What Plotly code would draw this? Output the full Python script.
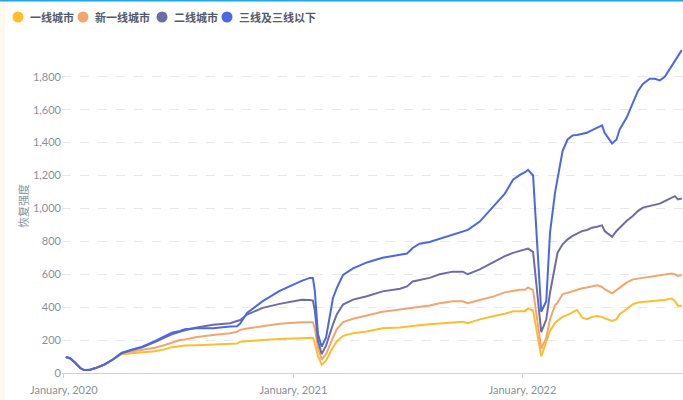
import plotly.graph_objects as go

dates = [
    "2020-01-04", "2020-01-11", "2020-01-19", "2020-01-27", "2020-02-02", "2020-02-11", "2020-02-21",
    "2020-03-06", "2020-03-19", "2020-04-02", "2020-04-18", "2020-05-04", "2020-05-25", "2020-06-10",
    "2020-06-21", "2020-07-04", "2020-07-12", "2020-07-31", "2020-08-26", "2020-09-22", "2020-10-03",
    "2020-10-08", "2020-10-19", "2020-11-13", "2020-12-10",
    "2021-01-14", "2021-01-27", "2021-02-01", "2021-02-04", "2021-02-09", "2021-02-15", "2021-02-22",
    "2021-03-05", "2021-03-11", "2021-03-21", "2021-04-06", "2021-04-28", "2021-05-23", "2021-06-20",
    "2021-07-01", "2021-07-10", "2021-07-21", "2021-08-06", "2021-08-22", "2021-09-12", "2021-09-28",
    "2021-10-06", "2021-10-25", "2021-11-15", "2021-12-04", "2021-12-17", "2021-12-28",
    "2022-01-05", "2022-01-10", "2022-01-18", "2022-01-31", "2022-02-08", "2022-02-14", "2022-02-22",
    "2022-02-26", "2022-03-06", "2022-03-14", "2022-03-22", "2022-03-29", "2022-04-03", "2022-04-06",
    "2022-04-14", "2022-04-22", "2022-04-30", "2022-05-08", "2022-05-12", "2022-05-24", "2022-05-31",
    "2022-06-05", "2022-06-16", "2022-06-26", "2022-07-04", "2022-07-12", "2022-07-23", "2022-07-31",
    "2022-08-08", "2022-08-16", "2022-08-27", "2022-09-01", "2022-09-06", "2022-09-12",
]

tier3_below = [
    98, 90, 62, 30, 18, 18, 30, 52, 82, 122, 142, 159, 194, 225, 245, 255, 266, 272, 272, 282, 284,
    300, 365, 437, 499,
    560, 578, 578, 500, 236, 160, 216, 456, 516, 596, 636, 672, 700, 716, 726, 760, 786, 796, 816,
    844, 864, 870, 920, 1010, 1090, 1174, 1204,
    1220, 1234, 1200, 372, 436, 853, 1096, 1177, 1349, 1419, 1444, 1447, 1450, 1454, 1460, 1476,
    1490, 1505, 1460, 1395, 1419, 1480, 1551, 1642, 1713, 1757, 1788, 1788, 1778, 1800, 1865,
    1895, 1925, 1962,
]

tier2 = [
    97, 90, 62, 30, 18, 19, 30, 52, 82, 120, 140, 155, 188, 215, 235, 250, 260, 276, 293, 303, 315,
    322, 355, 396, 420,
    445, 444, 440, 380, 196, 115, 166, 296, 356, 416, 446, 466, 496, 512, 526, 556, 566, 578, 600,
    616, 616, 600, 630, 674, 710, 730, 740,
    750, 756, 736, 248, 325, 488, 650, 731, 782, 812, 833, 845, 857, 862, 869, 883, 889, 897, 863,
    828, 863, 883, 924, 954, 984, 1005, 1015, 1025, 1029, 1045, 1065, 1075, 1055, 1061,
]

new_tier1 = [
    95, 88, 62, 30, 18, 20, 32, 52, 82, 118, 130, 140, 153, 170, 183, 200, 204, 219, 231, 241, 251,
    262, 270, 282, 299,
    309, 310, 308, 270, 156, 82, 116, 216, 266, 310, 330, 350, 372, 386, 392, 396, 400, 410, 424,
    436, 436, 424, 444, 464, 490, 500, 506,
    506, 520, 504, 148, 213, 327, 412, 428, 478, 488, 499, 506, 513, 515, 519, 525, 533, 523, 509,
    484, 505, 519, 549, 569, 573, 580, 584, 586, 590, 596, 604, 600, 590, 596,
]

tier1 = [
    94, 88, 62, 30, 18, 20, 32, 50, 80, 114, 120, 125, 132, 145, 157, 163, 167, 169, 173, 175, 179,
    190, 194, 200, 206,
    214, 216, 214, 180, 106, 50, 76, 156, 192, 226, 242, 252, 272, 276, 282, 284, 290, 296, 300,
    308, 312, 302, 326, 345, 360, 375, 378,
    376, 392, 380, 102, 190, 256, 306, 316, 341, 353, 367, 383, 357, 337, 327, 341, 347, 341, 333,
    316, 327, 357, 387, 418, 428, 432, 438, 438, 442, 444, 452, 438, 408, 408,
]

series_names = ["一线城市", "新一线城市", "二线城市", "三线及三线以下"]
series_values = [tier1, new_tier1, tier2, tier3_below]
series_colors = ["#FDBD2E", "#F2A66E", "#6C6CA6", "#4A68E4"]

tick_vals = ["2020-01-01", "2021-01-01", "2022-01-01"]
tick_text = ["January, 2020", "January, 2021", "January, 2022"]
y_title = "恢复强度"

fig = go.Figure()
for name, vals, col in zip(series_names, series_values, series_colors):
    fig.add_trace(go.Scatter(x=dates, y=vals, name=name, mode="lines",
                             line=dict(color=col, width=2), showlegend=False))

W, H = 683, 400
ML, MR, MT, MB = 62, 0, 48, 27
PW, PH = W - ML - MR, H - MT - MB


def px(x):
    return (x - ML) / PW


def py(y):
    return (H - MB - y) / PH


shapes = [
    dict(type="rect", xref="paper", yref="paper", x0=px(0), x1=px(5), y0=py(400), y1=py(0),
         fillcolor="#FFF8EC", line=dict(width=0), layer="below"),
    dict(type="rect", xref="paper", yref="paper", x0=px(0), x1=px(683), y0=py(1.5), y1=py(0),
         fillcolor="#1EA7E6", line=dict(width=0)),
]
annotations = []
legend_x = [18, 83, 162, 227]
for lx, name, col in zip(legend_x, series_names, series_colors):
    shapes.append(dict(type="circle", xref="paper", yref="paper",
                       x0=px(lx - 5.5), x1=px(lx + 5.5), y0=py(22.5), y1=py(11.5),
                       fillcolor=col, line=dict(width=0)))
    annotations.append(dict(xref="paper", yref="paper", x=px(lx + 10), y=py(17),
                            xanchor="left", yanchor="middle", showarrow=False,
                            text="<b>" + name + "</b>",
                            font=dict(size=11, color="#555a66", family="Noto Sans CJK SC")))

annotations.append(dict(xref="paper", yref="paper", x=px(23), y=py(206),
                        xanchor="center", yanchor="middle", showarrow=False, textangle=-90,
                        text=y_title,
                        font=dict(size=11, color="#8a8f99", family="Noto Sans CJK SC")))

fig.update_layout(
    width=W, height=H,
    margin=dict(l=ML, r=MR, t=MT, b=MB),
    paper_bgcolor="white", plot_bgcolor="white",
    font=dict(family="Lato, Noto Sans CJK SC", color="#8a8f99", size=11),
    shapes=shapes, annotations=annotations,
    showlegend=False,
    xaxis=dict(
        range=["2019-12-29", "2022-09-14"], tickvals=tick_vals, ticktext=tick_text,
        showgrid=False, showline=True, linecolor="#cfd3d8", linewidth=1,
        ticks="outside", ticklen=4, tickcolor="#cfd3d8", zeroline=False,
        tickfont=dict(size=11, color="#8a8f99"), ticklabelstandoff=3,
    ),
    yaxis=dict(
        range=[0, 1975], tickvals=[0, 200, 400, 600, 800, 1000, 1200, 1400, 1600, 1800],
        tickformat=",d", showgrid=True, gridcolor="#e6e8eb", griddash="dash", gridwidth=1,
        zeroline=False, showline=False,
        tickfont=dict(size=11, color="#8a8f99"),
    ),
)

fig.write_html("out.html", config={"displayModeBar": False},
               post_script="document.body.style.margin='0';document.body.style.overflow='hidden';")
